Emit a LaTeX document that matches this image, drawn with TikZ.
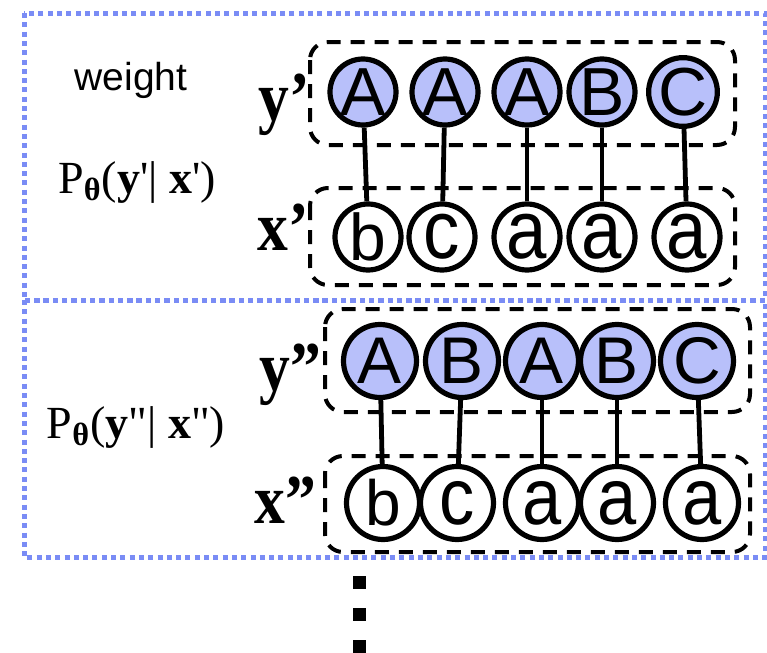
\documentclass[tikz,border=0pt]{standalone}
\usepackage{fontspec}
\usepackage{graphicx}
\setmainfont{Liberation Serif}
\newfontfamily\arialfont{Liberation Sans}
\definecolor{dotblue}{RGB}{122,140,245}
\definecolor{tagblue}{RGB}{184,192,250}
\def\tallglyph#1{\scalebox{1.1}[1.25]{#1}}
\def\narrowlabel#1{\scalebox{0.88}[1]{#1}}
\tikzset{
	outerbox/.style={draw=dotblue, line width=2.5pt, dash pattern=on 2.5pt off 2.15pt},
	seqbox/.style={draw, line width=2pt, dash pattern=on 7pt off 5pt, rounded corners=9pt},
	ytag/.style={circle, draw, line width=2.6pt, fill=tagblue, inner sep=0pt, minimum size=#1},
	xtag/.style={circle, draw, line width=2.6pt, fill=white, inner sep=0pt, minimum size=#1},
	seqlabel/.style={anchor=base, inner sep=0pt, font=\fontsize{35}{35}\selectfont\bfseries},
	problabel/.style={anchor=base, inner sep=0pt, font=\fontsize{23}{23}\selectfont},
	link/.style={line width=2.4pt}
}

\begin{document}
\begin{tikzpicture}[x=0.5pt, y=-0.5pt]
		%%%%% START %%%%%
		\useasboundingbox (0, 0) rectangle (767, 653);
		
		\draw[outerbox] (24, 13) rectangle (765, 300);
		\draw[outerbox] (24, 300) rectangle (765, 557);
		
		\draw[seqbox] (310, 42) rectangle (735, 145);
		\draw[seqbox] (310, 188) rectangle (735, 285);
		\draw[seqbox] (325, 309) rectangle (750, 412);
		\draw[seqbox] (325, 456) rectangle (750, 552);
		
		\node[inner sep=0pt, font=\arialfont\fontsize{19.5}{19.5}\selectfont] (weight) at (131, 80) {weight};
		\node[problabel] (probA) at (137, 193) {P\textsubscript{\textbf{θ}}(\textbf{y}\textquotesingle| \textbf{x}\textquotesingle)};
		\node[problabel] (probB) at (136, 438) {P\textsubscript{\textbf{θ}}(\textbf{y}\textquotedbl| \textbf{x}\textquotedbl)};
		
		\node[seqlabel] (labYA) at (284, 120) {\narrowlabel{y'}};
		\node[seqlabel] (labXA) at (283, 250) {\narrowlabel{x'}};
		\node[seqlabel] (labYB) at (290, 390) {\narrowlabel{y''}};
		\node[seqlabel] (labXB) at (285, 523) {\narrowlabel{x''}};
		
		% first pair
		\node[ytag=33pt, font=\arialfont\fontsize{34}{34}\selectfont] (yA1) at (363, 92) {A};
		\node[ytag=33pt, font=\arialfont\fontsize{34}{34}\selectfont] (yA2) at (445, 92) {A};
		\node[ytag=33pt, font=\arialfont\fontsize{34}{34}\selectfont] (yA3) at (527, 92) {A};
		\node[ytag=33pt, font=\arialfont\fontsize{34}{34}\selectfont] (yA4) at (602, 92) {B};
		\node[ytag=33pt, font=\arialfont\fontsize{34}{34}\selectfont] (yA5) at (683, 92) {C};
		
		\node[xtag=33pt, font=\arialfont\fontsize{33}{33}\selectfont] (xA1) at (368, 237) {b};
		\node[xtag=33pt, font=\arialfont\fontsize{33}{33}\selectfont] (xA2) at (442, 237) {\tallglyph{c}};
		\node[xtag=33pt, font=\arialfont\fontsize{33}{33}\selectfont] (xA3) at (527, 237) {\tallglyph{a}};
		\node[xtag=33pt, font=\arialfont\fontsize{33}{33}\selectfont] (xA4) at (602, 237) {\tallglyph{a}};
		\node[xtag=33pt, font=\arialfont\fontsize{33}{33}\selectfont] (xA5) at (687, 237) {\tallglyph{a}};
		
		\draw[link] (yA1) -- (xA1);
		\draw[link] (yA2) -- (xA2);
		\draw[link] (yA3) -- (xA3);
		\draw[link] (yA4) -- (xA4);
		\draw[link] (yA5) -- (xA5);
		
		% second pair
		\node[ytag=36.5pt, font=\arialfont\fontsize{33}{33}\selectfont] (yB1) at (380, 361) {A};
		\node[ytag=36.5pt, font=\arialfont\fontsize{33}{33}\selectfont] (yB2) at (462, 361) {B};
		\node[ytag=36.5pt, font=\arialfont\fontsize{33}{33}\selectfont] (yB3) at (542, 361) {A};
		\node[ytag=36.5pt, font=\arialfont\fontsize{33}{33}\selectfont] (yB4) at (617, 361) {B};
		\node[ytag=36.5pt, font=\arialfont\fontsize{33}{33}\selectfont] (yB5) at (697, 361) {C};
		
		\node[xtag=36.5pt, font=\arialfont\fontsize{32}{32}\selectfont] (xB1) at (383, 503) {b};
		\node[xtag=36.5pt, font=\arialfont\fontsize{32}{32}\selectfont] (xB2) at (457, 503) {\tallglyph{c}};
		\node[xtag=36.5pt, font=\arialfont\fontsize{32}{32}\selectfont] (xB3) at (542, 503) {\tallglyph{a}};
		\node[xtag=36.5pt, font=\arialfont\fontsize{32}{32}\selectfont] (xB4) at (617, 503) {\tallglyph{a}};
		\node[xtag=36.5pt, font=\arialfont\fontsize{32}{32}\selectfont] (xB5) at (702, 503) {\tallglyph{a}};
		
		\draw[link] (yB1) -- (xB1);
		\draw[link] (yB2) -- (xB2);
		\draw[link] (yB3) -- (xB3);
		\draw[link] (yB4) -- (xB4);
		\draw[link] (yB5) -- (xB5);
		
		% more below
		\fill (353, 576) rectangle (366, 589);
		\fill (353, 608) rectangle (366, 621);
		\fill (353, 640) rectangle (366, 653);
		
		%%%%% END %%%%%
	\end{tikzpicture}
\end{document}
